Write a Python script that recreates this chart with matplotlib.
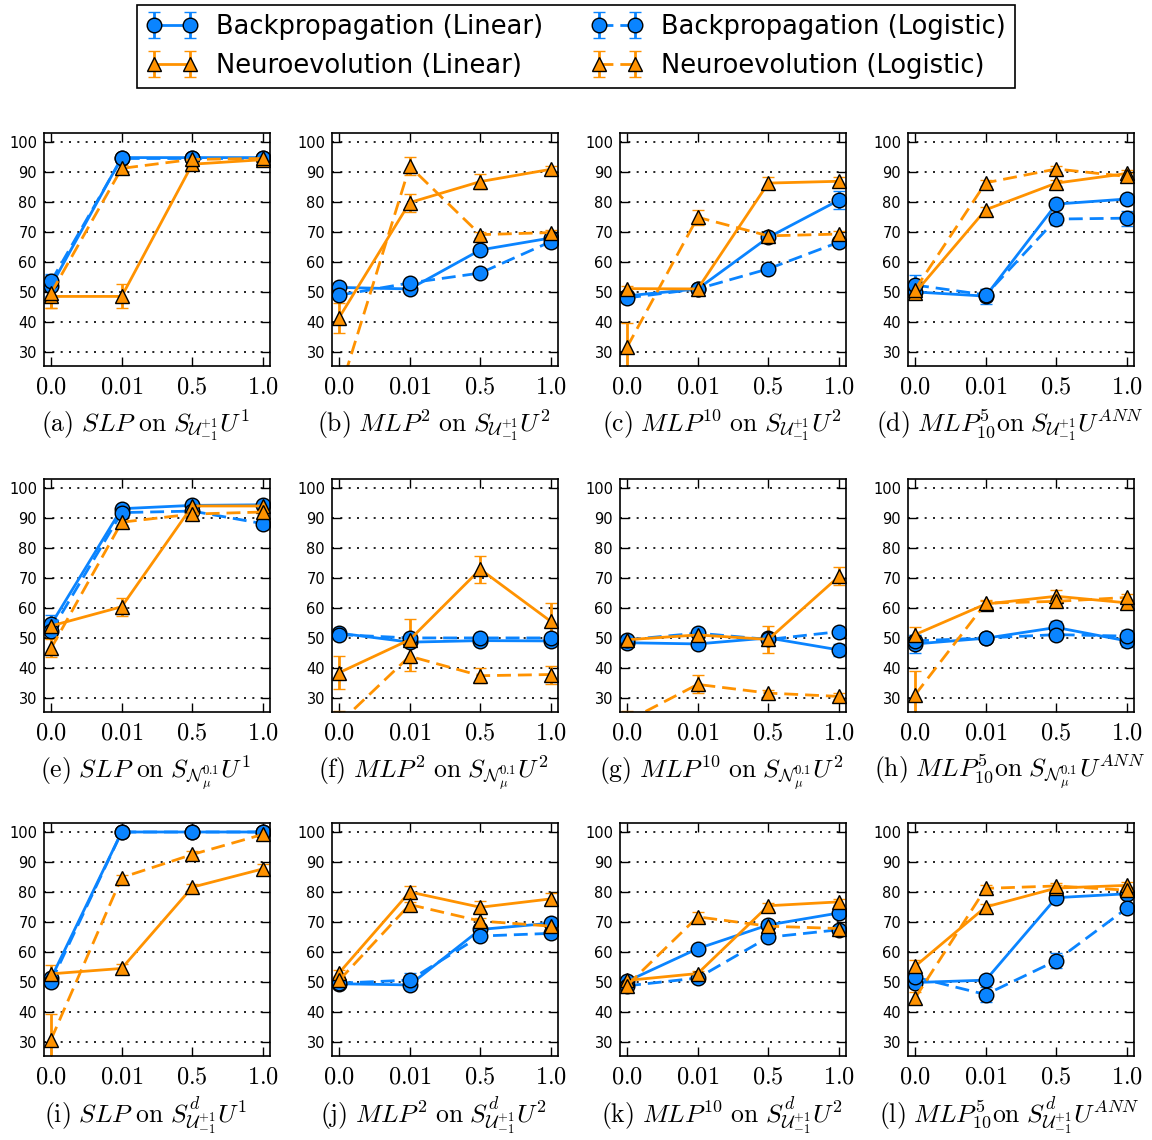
import numpy as np
import matplotlib
matplotlib.use('Agg')
import matplotlib.pyplot as plt

plt.rcParams['mathtext.fontset'] = 'cm'
plt.rcParams['font.family'] = ['DejaVu Sans']

# noise levels on the x axis
x_labels = ['$0.0$', '$0.01$', '$0.5$', '$1.0$']

captions = [
    r'$\mathrm{(a)}\ SLP\ \mathrm{on}\ S_{\mathcal{U}_{-1}^{+1}}U^{1}$',
    r'$\mathrm{(b)}\ MLP^{2}\ \mathrm{on}\ S_{\mathcal{U}_{-1}^{+1}}U^{2}$',
    r'$\mathrm{(c)}\ MLP^{10}\ \mathrm{on}\ S_{\mathcal{U}_{-1}^{+1}}U^{2}$',
    r'$\mathrm{(d)}\ MLP_{10}^{5}\mathrm{on}\ S_{\mathcal{U}_{-1}^{+1}}U^{ANN}$',
    r'$\mathrm{(e)}\ SLP\ \mathrm{on}\ S_{\mathcal{N}_{\mu}^{0.1}}U^{1}$',
    r'$\mathrm{(f)}\ MLP^{2}\ \mathrm{on}\ S_{\mathcal{N}_{\mu}^{0.1}}U^{2}$',
    r'$\mathrm{(g)}\ MLP^{10}\ \mathrm{on}\ S_{\mathcal{N}_{\mu}^{0.1}}U^{2}$',
    r'$\mathrm{(h)}\ MLP_{10}^{5}\mathrm{on}\ S_{\mathcal{N}_{\mu}^{0.1}}U^{ANN}$',
    r'$\mathrm{(i)}\ SLP\ \mathrm{on}\ S^{d}_{\mathcal{U}_{-1}^{+1}}U^{1}$',
    r'$\mathrm{(j)}\ MLP^{2}\ \mathrm{on}\ S^{d}_{\mathcal{U}_{-1}^{+1}}U^{2}$',
    r'$\mathrm{(k)}\ MLP^{10}\ \mathrm{on}\ S^{d}_{\mathcal{U}_{-1}^{+1}}U^{2}$',
    r'$\mathrm{(l)}\ MLP_{10}^{5}\mathrm{on}\ S^{d}_{\mathcal{U}_{-1}^{+1}}U^{ANN}$',
]

# accuracy (%) per panel, one row per panel a..l
bp_linear = [
    [52, 94.8, 94.8, 94.8],
    [51.5, 51, 64, 68],
    [48.7, 51, 68.2, 80.6],
    [50, 48.6, 79.3, 81],
    [54.5, 93.1, 94.2, 94.4],
    [51.6, 48.6, 49.1, 49],
    [48.4, 48, 50, 46],
    [48, 49.9, 53.5, 49],
    [51.2, 100, 100, 100],
    [49.4, 49, 67.5, 69.6],
    [50.2, 61.1, 69, 73],
    [49.8, 50.6, 78.1, 79.4],
]
bp_logistic = [
    [53.5, 94.5, 94.5, 94.5],
    [48.9, 53, 56.3, 66.8],
    [48, 51, 57.7, 66.6],
    [52.3, 49, 74.3, 74.6],
    [52.2, 91.8, 92.3, 88.1],
    [51.1, 50, 50, 50],
    [49.4, 51.6, 49.5, 52.1],
    [49, 50, 51.1, 50.6],
    [49.9, 100, 100, 100],
    [49.6, 50.6, 65.3, 66.2],
    [48.7, 51.3, 64.9, 67.4],
    [51.6, 45.8, 57.1, 74.6],
]
ne_linear = [
    [48.5, 48.5, 92.6, 94.1],
    [41.4, 79.8, 86.8, 90.9],
    [51.1, 51, 86.3, 86.9],
    [49.7, 77.4, 86.3, 89.5],
    [54, 60.4, 94, 94],
    [38.4, 49.4, 72.9, 55.5],
    [49.4, 51, 49.5, 70.5],
    [51.1, 61.3, 63.9, 61.7],
    [52.7, 54.5, 81.6, 87.7],
    [53, 80, 74.9, 77.7],
    [50.5, 52.8, 75.4, 76.7],
    [55.2, 75, 81.3, 82.2],
]
ne_logistic = [
    [49.6, 91.2, 94.2, 94.5],
    [16, 91.9, 69.1, 69.8],
    [31.6, 74.9, 68.7, 69.3],
    [50.8, 86.4, 91, 88.5],
    [46.5, 88.6, 91.3, 92],
    [21.5, 43.9, 37.4, 37.8],
    [22.3, 34.5, 31.6, 30.5],
    [31, 61.6, 62.2, 63.5],
    [30.8, 84.8, 92.5, 99.2],
    [50.5, 75.8, 70.3, 68.6],
    [48.8, 71.7, 68.6, 67.8],
    [44.6, 81.2, 82, 80.6],
]

# standard deviations
bp_linear_err = [
    [3.5, 1, 1, 1], [1, 1, 1, 1], [1, 1.5, 1, 3], [1, 2.5, 1, 1],
    [3, 1, 1, 1], [1, 1, 1, 1], [1, 1, 1, 2], [3, 1, 2, 2],
    [1, 1, 1, 1], [1, 1, 1, 1], [1, 1, 1, 1], [1, 1, 1, 1],
]
bp_logistic_err = [
    [2.5, 1, 1, 1], [1, 1, 1, 1], [1, 1, 1, 1], [3.5, 2, 2, 2.5],
    [1, 1, 1, 1], [1, 1, 1, 1], [1, 1, 1, 1], [2, 1, 1, 2],
    [1, 1, 1, 1], [1, 2.5, 1, 1], [1, 1, 1, 1], [1, 2.5, 2.5, 1],
]
ne_linear_err = [
    [4, 4, 1, 1], [5, 3, 2.5, 1], [1, 1, 2, 1.5], [2, 1, 1, 1],
    [1, 3, 1, 1], [5.5, 7, 4.5, 6], [1, 1, 4.5, 3], [2.5, 1, 2, 1],
    [3, 1.5, 1, 1.5], [1, 2, 2, 2], [1, 1, 1, 1], [2, 1, 1, 1],
]
ne_logistic_err = [
    [5, 1, 1, 1], [2, 3, 1, 1], [8, 2.5, 1, 1], [1, 1, 1, 1],
    [3, 1, 1, 1], [4, 5, 2.5, 3], [3.5, 3, 1, 1], [8, 1, 1, 1],
    [8.5, 1, 1, 1], [1, 1, 1, 1], [1, 1.5, 1, 1], [2, 1, 1, 1],
]

blue = '#0a84ff'
orange = '#ff9200'
solid = '-'
dashed = (0, (5, 2.5))

series = [
    ('Backpropagation (Linear)', bp_linear, bp_linear_err, blue, 'o', solid),
    ('Backpropagation (Logistic)', bp_logistic, bp_logistic_err, blue, 'o', dashed),
    ('Neuroevolution (Linear)', ne_linear, ne_linear_err, orange, '^', solid),
    ('Neuroevolution (Logistic)', ne_logistic, ne_logistic_err, orange, '^', dashed),
]

fig = plt.figure(figsize=(11.52, 11.40), dpi=100)
W, H = 1152, 1140
ax_w, ax_h = 226, 233
lefts = [44 + 288 * c for c in range(4)]
tops = [133, 479, 823]

x = np.arange(4)
handles = {}
for i in range(12):
    r, c = divmod(i, 4)
    ax = fig.add_axes([lefts[c] / W, 1 - (tops[r] + ax_h) / H, ax_w / W, ax_h / H])
    for label, vals, errs, col, mk, ls in series:
        h = ax.errorbar(x, vals[i], yerr=errs[i], color=col, linestyle=ls, lw=2,
                        marker=mk, ms=10.5, mfc=col, mec='black', mew=1,
                        ecolor=col, elinewidth=2, capsize=4.5, capthick=2)
        handles[label] = h
    ax.set_xlim(-0.1, 3.1)
    ax.set_ylim(25.3, 103)
    ax.set_yticks(range(30, 101, 10))
    ax.set_xticks(x)
    ax.set_xticklabels(x_labels, fontsize=17.5)
    ax.tick_params(axis='y', labelsize=10.5, pad=5)
    ax.tick_params(axis='x', pad=6)
    ax.tick_params(direction='in', top=True, right=True, length=6.5, width=1)
    ax.yaxis.grid(True, linestyle=(0, (1.2, 3.8)), color='black', linewidth=1.2)
    ax.set_axisbelow(True)
    for sp in ax.spines.values():
        sp.set_linewidth(1.2)
    ax.text(0.45, -0.285, captions[i], transform=ax.transAxes,
            ha='center', va='baseline', fontsize=18.5)

order = ['Backpropagation (Linear)', 'Neuroevolution (Linear)',
         'Backpropagation (Logistic)', 'Neuroevolution (Logistic)']
leg = fig.legend([handles[k] for k in order], order, loc='upper center',
                 bbox_to_anchor=(0.5, 0.998), ncol=2, numpoints=2, fontsize=18.5,
                 fancybox=False, edgecolor='black', framealpha=1,
                 handlelength=2.0, columnspacing=1.9, borderpad=0.35,
                 labelspacing=0.5, handletextpad=0.7, borderaxespad=0.1)
leg.get_frame().set_linewidth(1.2)

fig.savefig('out.png', dpi=100)
